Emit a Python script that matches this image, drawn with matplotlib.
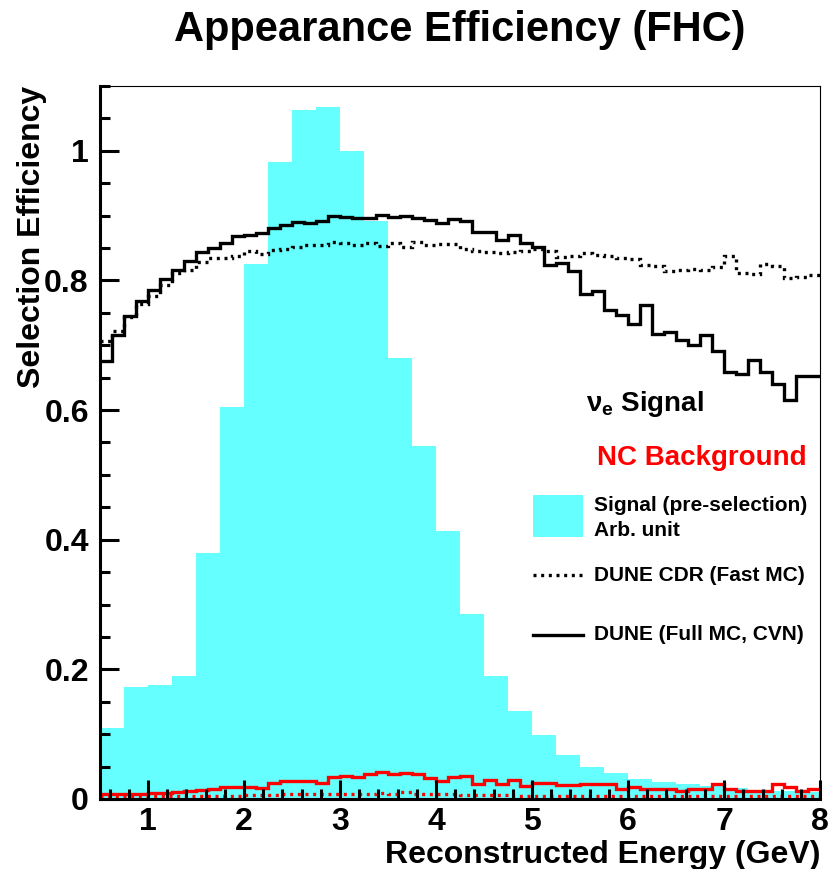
import numpy as np
import matplotlib
matplotlib.use("Agg")
import matplotlib.pyplot as plt
from matplotlib.ticker import MultipleLocator, FuncFormatter
from matplotlib.patches import Rectangle
from matplotlib.lines import Line2D

plt.rcParams['font.family'] = ['Liberation Sans', 'DejaVu Sans']
plt.rcParams['font.weight'] = 'bold'
plt.rcParams['mathtext.fontset'] = 'custom'
plt.rcParams['mathtext.rm'] = 'Liberation Sans:bold'
plt.rcParams['mathtext.it'] = 'Liberation Sans:bold'

# binning
e_lo, e_hi = 0.5, 8.0
n_sig_bins = 30      # 0.25 GeV bins for the pre-selection signal
n_eff_bins = 60      # 0.125 GeV bins for the efficiencies

# signal before selection (arb. unit)
signal_presel = [0.110, 0.172, 0.176, 0.189, 0.379, 0.604, 0.825, 0.983, 1.063, 1.068,
                 1.000, 0.892, 0.680, 0.544, 0.414, 0.286, 0.189, 0.135, 0.099, 0.068,
                 0.049, 0.040, 0.031, 0.026, 0.023, 0.020, 0.017, 0.014, 0.012, 0.011]

# nu_e signal efficiency, DUNE full MC (CVN)
sig_full = [0.675, 0.716, 0.745, 0.768, 0.785, 0.802, 0.816, 0.830, 0.844, 0.850,
            0.858, 0.869, 0.870, 0.873, 0.881, 0.886, 0.890, 0.889, 0.892, 0.900,
            0.898, 0.896, 0.896, 0.901, 0.898, 0.900, 0.897, 0.893, 0.888, 0.894,
            0.892, 0.875, 0.874, 0.862, 0.870, 0.858, 0.851, 0.824, 0.827, 0.815,
            0.779, 0.783, 0.755, 0.747, 0.732, 0.762, 0.717, 0.721, 0.708, 0.701,
            0.715, 0.691, 0.658, 0.655, 0.677, 0.659, 0.640, 0.616, 0.653, 0.653]

# nu_e signal efficiency, DUNE CDR fast MC
sig_fast = [0.706, 0.722, 0.743, 0.764, 0.776, 0.793, 0.812, 0.816, 0.828, 0.835,
            0.835, 0.837, 0.846, 0.840, 0.847, 0.849, 0.851, 0.855, 0.855, 0.859,
            0.857, 0.855, 0.857, 0.853, 0.857, 0.852, 0.859, 0.855, 0.856, 0.856,
            0.849, 0.846, 0.844, 0.842, 0.844, 0.846, 0.849, 0.846, 0.836, 0.838,
            0.843, 0.839, 0.838, 0.835, 0.833, 0.824, 0.822, 0.815, 0.816, 0.818,
            0.816, 0.820, 0.838, 0.812, 0.810, 0.825, 0.822, 0.803, 0.806, 0.808]

# NC background efficiency, DUNE full MC (CVN)
nc_full = [0.007, 0.007, 0.007, 0.008, 0.009, 0.009, 0.011, 0.012, 0.014, 0.016,
           0.018, 0.018, 0.019, 0.017, 0.025, 0.027, 0.027, 0.028, 0.025, 0.034,
           0.036, 0.034, 0.038, 0.042, 0.038, 0.040, 0.038, 0.033, 0.028, 0.034,
           0.035, 0.023, 0.030, 0.023, 0.029, 0.020, 0.024, 0.024, 0.022, 0.021,
           0.023, 0.023, 0.023, 0.016, 0.019, 0.016, 0.015, 0.015, 0.013, 0.016,
           0.016, 0.023, 0.015, 0.013, 0.013, 0.013, 0.023, 0.019, 0.013, 0.016]

# NC background efficiency, DUNE CDR fast MC
nc_fast = [0.004, 0.004, 0.004, 0.004, 0.004, 0.004, 0.005, 0.005, 0.005, 0.005,
           0.005, 0.005, 0.006, 0.006, 0.006, 0.007, 0.007, 0.007, 0.007, 0.008,
           0.008, 0.008, 0.008, 0.009, 0.008, 0.010, 0.008, 0.007, 0.007, 0.007,
           0.006, 0.006, 0.006, 0.006, 0.005, 0.005, 0.005, 0.005, 0.005, 0.005,
           0.005, 0.005, 0.005, 0.005, 0.005, 0.005, 0.004, 0.004, 0.004, 0.004,
           0.004, 0.004, 0.004, 0.004, 0.004, 0.004, 0.004, 0.004, 0.004, 0.004]

sig_edges = np.linspace(e_lo, e_hi, n_sig_bins + 1)
eff_edges = np.linspace(e_lo, e_hi, n_eff_bins + 1)

cyan = '#66ffff'
lw = 2.4
dots = (0, (0.9, 1.4))

fig = plt.figure(figsize=(8.36, 8.69), dpi=100)
ax = fig.add_axes([0.1196, 0.0806, 0.8614, 0.8205])

ax.stairs(signal_presel, sig_edges, fill=True, color=cyan, linewidth=0)
ax.stairs(nc_fast, eff_edges, color='red', linewidth=lw, linestyle=dots, baseline=None)
ax.stairs(nc_full, eff_edges, color='red', linewidth=lw, baseline=None)
ax.stairs(sig_fast, eff_edges, color='black', linewidth=lw, linestyle=dots, baseline=None)
ax.stairs(sig_full, eff_edges, color='black', linewidth=lw, baseline=None)

ax.set_xlim(e_lo, e_hi)
ax.set_ylim(0, 1.1)

ax.xaxis.set_major_locator(MultipleLocator(1))
ax.xaxis.set_minor_locator(MultipleLocator(0.2))
ax.yaxis.set_major_locator(MultipleLocator(0.2))
ax.yaxis.set_minor_locator(MultipleLocator(0.05))
ax.yaxis.set_major_formatter(FuncFormatter(lambda v, p: '%g' % round(v, 3)))
ax.xaxis.set_major_formatter(FuncFormatter(lambda v, p: '%g' % round(v, 3)))

ax.tick_params(which='both', direction='in', width=2.2, labelsize=23, top=False, right=False)
ax.tick_params(which='major', length=14)
ax.tick_params(which='minor', length=7)
ax.tick_params(axis='x', pad=6)
ax.tick_params(axis='y', pad=8)

for side in ['left', 'bottom']:
    ax.spines[side].set_linewidth(2.2)
for side in ['top', 'right']:
    ax.spines[side].set_linewidth(0.8)

ax.set_ylabel('Selection Efficiency', fontsize=23, fontweight='bold', loc='top')
ax.yaxis.set_label_coords(-0.073, 1.0)
ax.set_xlabel('Reconstructed Energy (GeV)', fontsize=23, fontweight='bold', loc='right')
ax.xaxis.set_label_coords(1.0, -0.058)

fig.text(0.55, 0.966, 'Appearance Efficiency (FHC)', fontsize=30, fontweight='bold',
         ha='center', va='center')

# legend block
ax.text(0.675, 0.554, r'$\nu_e$ Signal', transform=ax.transAxes, fontsize=20,
        fontweight='bold', va='center', ha='left')
ax.text(0.690, 0.478, 'NC Background', transform=ax.transAxes, fontsize=20,
        fontweight='bold', color='red', va='center', ha='left')
ax.add_patch(Rectangle((0.601, 0.367), 0.070, 0.059, transform=ax.transAxes,
                       facecolor=cyan, edgecolor='none'))
ax.text(0.686, 0.412, 'Signal (pre-selection)', transform=ax.transAxes, fontsize=15,
        fontweight='bold', va='center', ha='left')
ax.text(0.686, 0.377, 'Arb. unit', transform=ax.transAxes, fontsize=15,
        fontweight='bold', va='center', ha='left')
ax.add_line(Line2D([0.601, 0.671], [0.314, 0.314], transform=ax.transAxes, color='black',
                   linewidth=lw, linestyle=dots))
ax.text(0.686, 0.314, 'DUNE CDR (Fast MC)', transform=ax.transAxes, fontsize=15,
        fontweight='bold', va='center', ha='left')
ax.add_line(Line2D([0.601, 0.671], [0.230, 0.230], transform=ax.transAxes, color='black',
                   linewidth=lw))
ax.text(0.686, 0.230, 'DUNE (Full MC, CVN)', transform=ax.transAxes, fontsize=15,
        fontweight='bold', va='center', ha='left')

fig.savefig('out.png', dpi=100)
